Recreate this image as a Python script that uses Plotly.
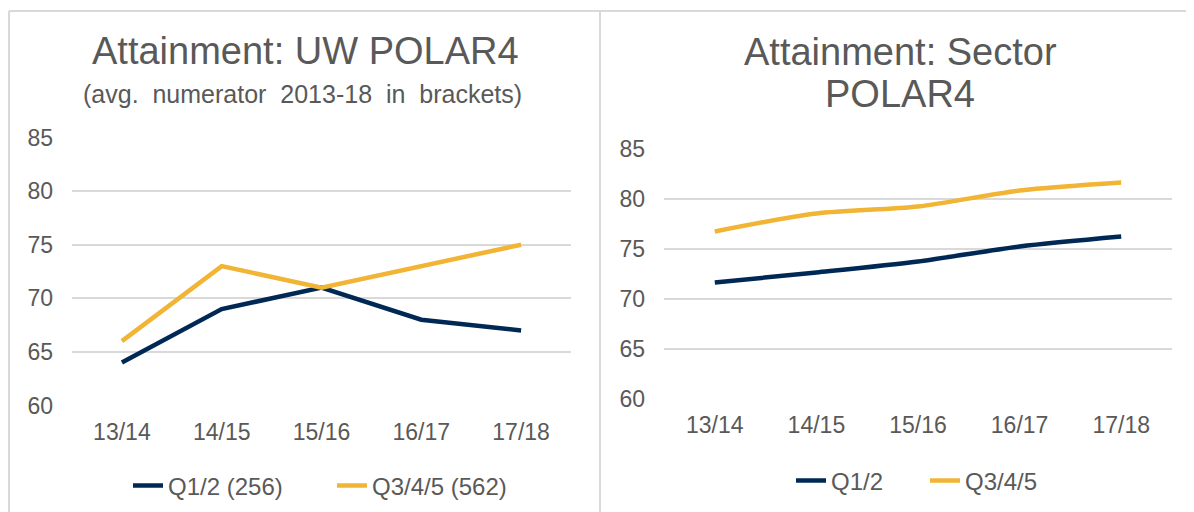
import plotly.graph_objects as go
from plotly.subplots import make_subplots

# Data
years = ['13/14', '14/15', '15/16', '16/17', '17/18']
uw_q12 = [64, 69, 71, 68, 67]
uw_q345 = [66, 73, 71, 73, 75]
sector_q12 = [71.6, 72.6, 73.7, 75.2, 76.2]
sector_q345 = [76.7, 78.5, 79.2, 80.8, 81.6]
uw_names = ['Q1/2 (256)', 'Q3/4/5 (562)']
sector_names = ['Q1/2', 'Q3/4/5']
y_ticks = [60, 65, 70, 75, 80, 85]

NAVY = '#002855'
GOLD = '#F1B434'
GREY_TXT = '#595959'
GRID = '#D9D9D9'
FONT = 'Liberation Sans, Arial, sans-serif'

# page has an 8px body margin, so the figure is drawn 8px smaller
OFF = 8
W, H = 1194 - OFF, 512 - OFF

fig = make_subplots(rows=1, cols=2)

# Left panel: UW
fig.add_trace(go.Scatter(x=years, y=uw_q12, mode='lines', name=uw_names[0],
                         line=dict(color=NAVY, width=4.5), legend='legend'), row=1, col=1)
fig.add_trace(go.Scatter(x=years, y=uw_q345, mode='lines', name=uw_names[1],
                         line=dict(color=GOLD, width=4.5), legend='legend'), row=1, col=1)

# Right panel: sector (smoothed lines)
fig.add_trace(go.Scatter(x=years, y=sector_q12, mode='lines', name=sector_names[0],
                         line=dict(color=NAVY, width=4.5, shape='spline', smoothing=0.8),
                         legend='legend2'), row=1, col=2)
fig.add_trace(go.Scatter(x=years, y=sector_q345, mode='lines', name=sector_names[1],
                         line=dict(color=GOLD, width=4.5, shape='spline', smoothing=0.8),
                         legend='legend2'), row=1, col=2)


def px_x(p):
    # page pixel -> paper fraction
    return (p - OFF) / W


def px_y(p):
    return 1 - (p - OFF) / H


axis_font = dict(family=FONT, size=23, color=GREY_TXT)
legend_font = dict(family=FONT, size=24, color=GREY_TXT)

fig.update_xaxes(type='category', range=[-0.5, 4.5], showgrid=False, zeroline=False,
                 showline=False, ticks='', tickfont=axis_font, ticklabelstandoff=10)
fig.update_yaxes(range=[59.95, 85.05], tickvals=y_ticks, showgrid=True, gridcolor=GRID,
                 gridwidth=1.5, zeroline=False, showline=False, ticks='',
                 tickfont=axis_font, ticklabelstandoff=18)

fig.update_layout(
    width=W, height=H,
    margin=dict(l=0, r=0, t=0, b=0, autoexpand=False),
    paper_bgcolor='white',
    plot_bgcolor='white',
    font=dict(family=FONT, color=GREY_TXT),
    xaxis=dict(domain=[px_x(72), px_x(571)]),
    yaxis=dict(domain=[px_y(406), px_y(137)]),
    xaxis2=dict(domain=[px_x(664), px_x(1172)]),
    yaxis2=dict(domain=[px_y(399), px_y(148)]),
    legend=dict(orientation='h', x=px_x(128), y=px_y(486), xanchor='left', yanchor='middle',
                font=legend_font, bgcolor='rgba(0,0,0,0)', entrywidth=159),
    legend2=dict(orientation='h', x=px_x(791), y=px_y(481), xanchor='left', yanchor='middle',
                 font=legend_font, bgcolor='rgba(0,0,0,0)', entrywidth=89),
    showlegend=True,
)

# Titles
titles = [
    ('Attainment: UW POLAR4', 305, 51, 38),
    ('(avg.  numerator  2013-18  in  brackets)', 302, 94, 25),
    ('Attainment: Sector', 900, 52, 38),
    ('POLAR4', 900, 94, 38),
]
for text, cx, cy, size in titles:
    fig.add_annotation(text=text.replace('  ', '&nbsp; '), x=px_x(cx), y=px_y(cy),
                       xref='paper', yref='paper', xanchor='center', yanchor='middle',
                       showarrow=False, font=dict(family=FONT, size=size, color=GREY_TXT))

# Panel borders
border = dict(color=GRID, width=2)
fig.add_shape(type='line', xref='paper', yref='paper', x0=px_x(9), x1=1, y0=px_y(11), y1=px_y(11), line=border)
fig.add_shape(type='line', xref='paper', yref='paper', x0=px_x(9), x1=px_x(9), y0=0, y1=px_y(11), line=border)
fig.add_shape(type='line', xref='paper', yref='paper', x0=px_x(600), x1=px_x(600), y0=0, y1=px_y(11), line=border)

fig.write_html("out.html")
